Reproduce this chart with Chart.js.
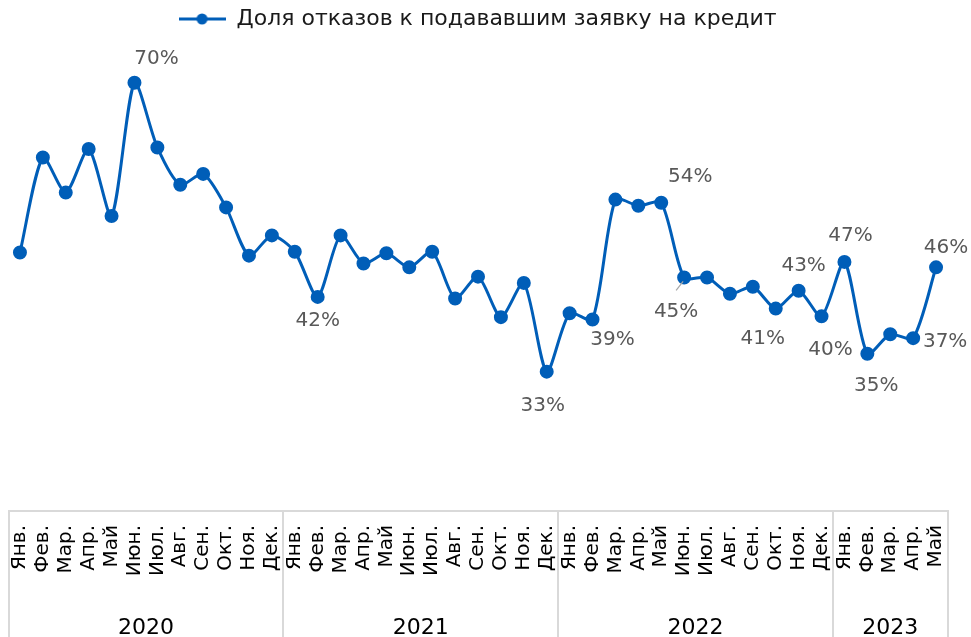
<!DOCTYPE html>
<html>
<head>
<meta charset="utf-8">
<script src="https://cdn.jsdelivr.net/npm/chart.js@4/dist/chart.umd.min.js"></script>
<style>
  body { margin: 0; background: #fff; }
</style>
</head>
<body>
<canvas id="myChart" width="971" height="637"></canvas>
<script>
// --- data ---
const seriesName = 'Доля отказов к подававшим заявку на кредит';
const monthNames = ['Янв.', 'Фев.', 'Мар.', 'Апр.', 'Май', 'Июн.', 'Июл.', 'Авг.', 'Сен.', 'Окт.', 'Ноя.', 'Дек.'];
const years = ['2020', '2021', '2022', '2023'];
const monthsPerYear = [12, 12, 12, 5];

const values2020 = [48.0, 60.2, 55.7, 61.3, 52.7, 69.8, 61.5, 56.7, 58.1, 53.8, 47.6, 50.2];
const values2021 = [48.1, 42.3, 50.2, 46.6, 47.9, 46.1, 48.1, 42.1, 44.9, 39.7, 44.1, 32.7];
const values2022 = [40.2, 39.4, 54.8, 54.0, 54.4, 44.8, 44.8, 42.7, 43.6, 40.8, 43.1, 39.8];
const values2023 = [46.8, 35.0, 37.5, 37.0, 46.1];

// points that carry a value label
const labelledPoints = [5, 13, 23, 25, 28, 29, 33, 34, 35, 36, 37, 39, 40];

const labels = [];
monthsPerYear.forEach(n => labels.push(...monthNames.slice(0, n)));
const values = [...values2020, ...values2021, ...values2022, ...values2023];

// year groups: centre in category units
const yearCenters = [];
let start = 0;
monthsPerYear.forEach(n => { yearCenters.push(start + (n - 1) / 2); start += n; });

// label placement (text centre relative to point)
const labelOffsets = {
    5: [22, -24], 13: [0, 24], 23: [-4, 34], 25: [20, 20], 28: [29, -26],
    29: [-8, 34], 33: [-13, 30], 34: [5, -25], 35: [9, 33], 36: [6, -26],
    37: [9, 32], 39: [32, 4], 40: [10, -20]
};

const blue = '#005EB8';
const font = 'DejaVu Sans';

// legend icon: line with a dot
const legendIcon = document.createElement('canvas');
legendIcon.width = 47;
legendIcon.height = 14;
(function () {
    const c = legendIcon.getContext('2d');
    c.strokeStyle = blue;
    c.lineWidth = 3;
    c.beginPath(); c.moveTo(0, 7); c.lineTo(47, 7); c.stroke();
    c.fillStyle = blue;
    c.beginPath(); c.arc(23.5, 7, 5.5, 0, Math.PI * 2); c.fill();
})();

const valueLabels = {
    id: 'valueLabels',
    afterDatasetsDraw(chart) {
        const ctx = chart.ctx;
        const meta = chart.getDatasetMeta(0);
        ctx.save();
        ctx.font = '20px "' + font + '"';
        ctx.fillStyle = '#595959';
        ctx.textAlign = 'center';
        ctx.textBaseline = 'middle';
        labelledPoints.forEach(i => {
            const p = meta.data[i];
            const off = labelOffsets[i];
            ctx.fillText(Math.round(values[i]) + '%', p.x + off[0], p.y + off[1]);
        });
        // leader line for the June 2022 label
        const p = meta.data[29];
        ctx.strokeStyle = '#a6a6a6';
        ctx.lineWidth = 1.2;
        ctx.beginPath();
        ctx.moveTo(p.x - 8, p.y + 13);
        ctx.lineTo(p.x - 1, p.y + 4);
        ctx.stroke();
        ctx.restore();
    }
};

const data = {
    labels: labels,
    datasets: [{
        label: seriesName,
        data: values,
        borderColor: blue,
        backgroundColor: blue,
        borderWidth: 3,
        pointRadius: 5.5,
        pointBackgroundColor: blue,
        pointBorderColor: blue,
        tension: 0.25,
        fill: false
    }]
};

const config = {
    type: 'line',
    data: data,
    options: {
        responsive: false,
        animation: false,
        layout: { padding: { left: 7.5, right: 23.5, top: 0, bottom: 0 } },
        plugins: {
            tooltip: { enabled: false },
            legend: {
                position: 'top',
                labels: {
                    font: { family: font, size: 22 },
                    color: '#1a1a1a',
                    padding: 8,
                    usePointStyle: true,
                    pointStyleWidth: 47,
                    generateLabels: chart => Chart.defaults.plugins.legend.labels.generateLabels(chart)
                        .map(l => Object.assign(l, { pointStyle: legendIcon }))
                }
            }
        },
        scales: {
            y: { display: false, min: 14.8, max: 75.3 },
            x: {
                offset: true,
                afterFit: s => { s.height = 94; },
                border: { display: true, color: '#d9d9d9', width: 2 },
                grid: {
                    offset: true,
                    drawOnChartArea: false,
                    drawTicks: true,
                    tickLength: 130,
                    lineWidth: 2,
                    color: c => (c.index === undefined || c.index % 12 === 0) ? '#d9d9d9' : 'rgba(0,0,0,0)'
                },
                ticks: {
                    autoSkip: false,
                    minRotation: 90,
                    maxRotation: 90,
                    padding: -116,
                    color: '#000',
                    font: { family: font, size: 20 }
                }
            },
            x2: {
                type: 'linear',
                position: 'bottom',
                min: -0.5,
                max: labels.length - 0.5,
                afterFit: s => { s.height = 32; },
                afterBuildTicks: s => { s.ticks = yearCenters.map(v => ({ value: v })); },
                border: { display: false },
                grid: { display: false },
                ticks: {
                    autoSkip: false,
                    maxRotation: 0,
                    padding: 2,
                    color: '#000',
                    font: { family: font, size: 22 },
                    callback: (v, i) => years[i]
                }
            }
        }
    },
    plugins: [valueLabels]
};

const myChart = new Chart(document.getElementById('myChart'), config);
</script>
</body>
</html>
